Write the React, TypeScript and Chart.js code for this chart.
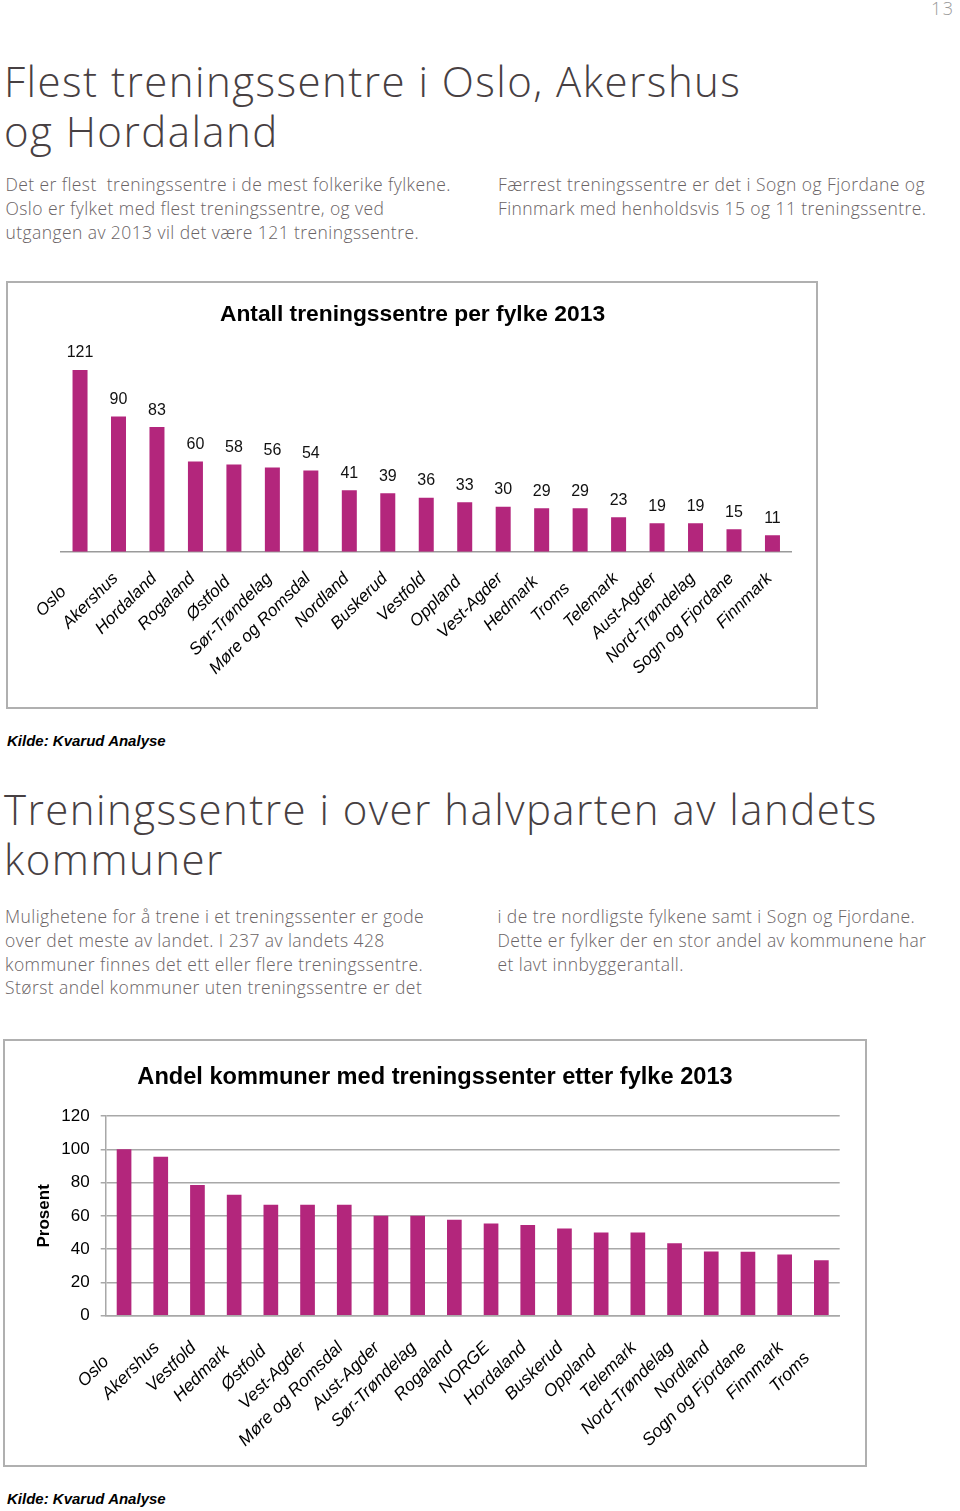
import React, { useEffect, useRef } from 'react';
import { Chart, registerables } from 'chart.js';

Chart.register(...registerables);

// ---------- Data ----------
const countiesCount = ['Oslo', 'Akershus', 'Hordaland', 'Rogaland', 'Østfold', 'Sør-Trøndelag', 'Møre og Romsdal', 'Nordland', 'Buskerud', 'Vestfold', 'Oppland', 'Vest-Agder', 'Hedmark', 'Troms', 'Telemark', 'Aust-Agder', 'Nord-Trøndelag', 'Sogn og Fjordane', 'Finnmark'];
const centreCounts = [121, 90, 83, 60, 58, 56, 54, 41, 39, 36, 33, 30, 29, 29, 23, 19, 19, 15, 11];

const countiesShare = ['Oslo', 'Akershus', 'Vestfold', 'Hedmark', 'Østfold', 'Vest-Agder', 'Møre og Romsdal', 'Aust-Agder', 'Sør-Trøndelag', 'Rogaland', 'NORGE', 'Hordaland', 'Buskerud', 'Oppland', 'Telemark', 'Nord-Trøndelag', 'Nordland', 'Sogn og Fjordane', 'Finnmark', 'Troms'];
const shareWithCentre = [100, 95.5, 78.6, 72.7, 66.7, 66.7, 66.7, 60, 60, 57.7, 55.4, 54.5, 52.4, 50, 50, 43.5, 38.6, 38.5, 36.8, 33.3];
const shareTicks = [0, 20, 40, 60, 80, 100, 120];

const title1 = 'Antall treningssentre per fylke 2013';
const title2 = 'Andel kommuner med treningssenter etter fylke 2013';
const yTitle2 = 'Prosent';
const source = 'Kilde: Kvarud Analyse';

// ---------- Styles ----------
const CHART_FONT = "'Liberation Sans', Arial, Helvetica, sans-serif";
const BAR_COLOR = '#b3267c';
const GRID_COLOR = '#a8a8a8';
// short labels sit a little further down-left in the original
const labelPad: Record<string, number> = { Oslo: 4, Troms: 3, 'Østfold': 1, Hedmark: 1, Oppland: 1 };
const padLabel = (s: string) => s + ' '.repeat(labelPad[s] || 0);

const valueLabels = {
  id: 'valueLabels',
  afterDatasetsDraw(chart: any) {
    const { ctx } = chart;
    const meta = chart.getDatasetMeta(0);
    const data = chart.data.datasets[0].data;
    ctx.save();
    ctx.font = `16px ${CHART_FONT}`;
    ctx.fillStyle = '#111';
    ctx.textAlign = 'center';
    ctx.textBaseline = 'alphabetic';
    meta.data.forEach((el: any, i: number) => {
      ctx.fillText(String(data[i]), el.x, el.y - 12.5);
    });
    ctx.restore();
  },
};

const shiftTitle = (dx: number) => ({
  id: 'shiftTitle',
  afterLayout(chart: any) {
    const tb = chart.titleBlock;
    if (tb) {
      tb.left += dx;
      tb.right += dx;
    }
  },
});

function CountChart() {
  const ref = useRef<HTMLCanvasElement>(null);
  useEffect(() => {
    if (!ref.current) return;
    const chart = new Chart(ref.current, {
      type: 'bar',
      data: {
        labels: countiesCount,
        datasets: [
          {
            data: centreCounts,
            backgroundColor: BAR_COLOR,
            borderWidth: 0,
            barPercentage: 0.39,
            categoryPercentage: 1,
          },
        ],
      },
      options: {
        animation: false,
        responsive: false,
        devicePixelRatio: 1,
        layout: { padding: { left: 52.8, right: 24.3, top: 0, bottom: 0 } },
        plugins: {
          legend: { display: false },
          tooltip: { enabled: false },
          title: {
            display: true,
            text: title1,
            color: '#000',
            font: { family: CHART_FONT, size: 22.8, weight: 'bold' },
            padding: { top: 18.3, bottom: 12.8 },
          },
        },
        scales: {
          x: {
            grid: { display: false, drawTicks: false },
            border: { display: true, color: '#9a9a9a', width: 1.5 },
            ticks: {
              autoSkip: false,
              minRotation: 45,
              maxRotation: 45,
              padding: 17,
              labelOffset: -3,
              color: '#000',
              font: { family: CHART_FONT, size: 17, style: 'italic' },
              callback: (_v: any, i: number) => padLabel(countiesCount[i]),
            },
            afterFit: (s: any) => {
              s.height = 155.3;
            },
          },
          y: {
            display: false,
            min: 0,
            max: 140,
          },
        },
      },
      plugins: [valueLabels, shiftTitle(-13.75)],
    } as any);
    return () => chart.destroy();
  }, []);
  return (
    <canvas
      ref={ref}
      width={808}
      height={424}
      style={{ position: 'absolute', left: 8, top: 283, width: 808, height: 424, display: 'block' }}
    />
  );
}

function ShareChart() {
  const ref = useRef<HTMLCanvasElement>(null);
  useEffect(() => {
    if (!ref.current) return;
    const chart = new Chart(ref.current, {
      type: 'bar',
      data: {
        labels: countiesShare,
        datasets: [
          {
            data: shareWithCentre,
            backgroundColor: BAR_COLOR,
            borderWidth: 0,
            barPercentage: 0.4,
            categoryPercentage: 1,
          },
        ],
      },
      options: {
        animation: false,
        responsive: false,
        devicePixelRatio: 1,
        layout: { padding: { left: 25.3, right: 25.3, top: 0, bottom: 0 } },
        plugins: {
          legend: { display: false },
          tooltip: { enabled: false },
          title: {
            display: true,
            text: title2,
            color: '#000',
            font: { family: CHART_FONT, size: 23.6, weight: 'bold' },
            padding: { top: 22.8, bottom: 23.9 },
          },
        },
        scales: {
          x: {
            grid: { display: false, drawTicks: false },
            border: { display: true, color: GRID_COLOR, width: 1.5 },
            ticks: {
              autoSkip: false,
              minRotation: 45,
              maxRotation: 45,
              padding: 22,
              labelOffset: -4,
              color: '#000',
              font: { family: CHART_FONT, size: 17.5, style: 'italic' },
              callback: (_v: any, i: number) => padLabel(countiesShare[i]),
            },
            afterFit: (s: any) => {
              s.height = 149.3;
            },
          },
          y: {
            min: 0,
            max: 120,
            afterBuildTicks: (s: any) => {
              s.ticks = shareTicks.map((v) => ({ value: v }));
            },
            grid: { color: GRID_COLOR, lineWidth: 1.5, drawTicks: true, tickLength: 5 },
            border: { display: true, color: GRID_COLOR, width: 1.5 },
            ticks: {
              padding: 11,
              color: '#000',
              font: { family: CHART_FONT, size: 17 },
            },
            title: {
              display: true,
              text: yTitle2,
              color: '#000',
              font: { family: CHART_FONT, size: 17, weight: 'bold' },
              padding: { top: 4, bottom: 4 },
            },
            afterFit: (s: any) => {
              s.width = 75.4;
            },
          },
        },
      },
      plugins: [],
    } as any);
    return () => chart.destroy();
  }, []);
  return (
    <canvas
      ref={ref}
      width={860}
      height={424}
      style={{ position: 'absolute', left: 5, top: 1041, width: 860, height: 424, display: 'block' }}
    />
  );
}

const textBase: React.CSSProperties = {
  position: 'absolute',
  margin: 0,
  fontFamily: "'Open Sans', 'DejaVu Sans', sans-serif",
  fontWeight: 300,
  whiteSpace: 'pre',
};

const headingStyle: React.CSSProperties = {
  ...textBase,
  fontSize: 42,
  lineHeight: '50px',
  letterSpacing: '1.45px',
  color: '#474042',
};

const bodyStyle: React.CSSProperties = {
  ...textBase,
  fontSize: 17.5,
  lineHeight: '23.6px',
  letterSpacing: '0.42px',
  color: '#6a6365',
};

const sourceStyle: React.CSSProperties = {
  position: 'absolute',
  margin: 0,
  left: 7,
  fontFamily: CHART_FONT,
  fontWeight: 'bold',
  fontStyle: 'italic',
  fontSize: 15,
  lineHeight: '18px',
  color: '#000',
  whiteSpace: 'pre',
};

const boxStyle: React.CSSProperties = {
  position: 'absolute',
  boxSizing: 'border-box',
  border: '2px solid #b0b0b0',
  background: '#fff',
};

export default function App() {
  return (
    <div
      style={{
        position: 'absolute',
        left: 0,
        top: 0,
        width: 960,
        height: 1511,
        overflow: 'hidden',
        background: '#fff',
      }}
    >
      <div style={{ ...textBase, left: 931, top: -2, fontSize: 18, lineHeight: '20px', letterSpacing: '1.5px', color: '#9a9a9a' }}>13</div>

      <h1 style={{ ...headingStyle, left: 4, top: 55.7 }}>{'Flest treningssentre i Oslo, Akershus\nog Hordaland'}</h1>

      <p style={{ ...bodyStyle, left: 5.5, top: 173.4 }}>
        {'Det er flest  treningssentre i de mest folkerike fylkene.\nOslo er fylket med flest treningssentre, og ved\nutgangen av 2013 vil det være 121 treningssentre.'}
      </p>
      <p style={{ ...bodyStyle, left: 498, top: 173.4 }}>
        {'Færrest treningssentre er det i Sogn og Fjordane og\nFinnmark med henholdsvis 15 og 11 treningssentre.'}
      </p>

      <div style={{ ...boxStyle, left: 6, top: 281, width: 812, height: 428 }} />
      <CountChart />
      <div style={{ ...sourceStyle, top: 732 }}>{source}</div>

      <h1 style={{ ...headingStyle, left: 4, top: 783.7 }}>{'Treningssentre i over halvparten av landets\nkommuner'}</h1>

      <p style={{ ...bodyStyle, left: 5, top: 905.4 }}>
        {'Mulighetene for å trene i et treningssenter er gode\nover det meste av landet. I 237 av landets 428\nkommuner finnes det ett eller flere treningssentre.\nStørst andel kommuner uten treningssentre er det'}
      </p>
      <p style={{ ...bodyStyle, left: 497.5, top: 905.4 }}>
        {'i de tre nordligste fylkene samt i Sogn og Fjordane.\nDette er fylker der en stor andel av kommunene har\net lavt innbyggerantall.'}
      </p>

      <div style={{ ...boxStyle, left: 3, top: 1039, width: 864, height: 428 }} />
      <ShareChart />
      <div style={{ ...sourceStyle, top: 1490 }}>{source}</div>
    </div>
  );
}
